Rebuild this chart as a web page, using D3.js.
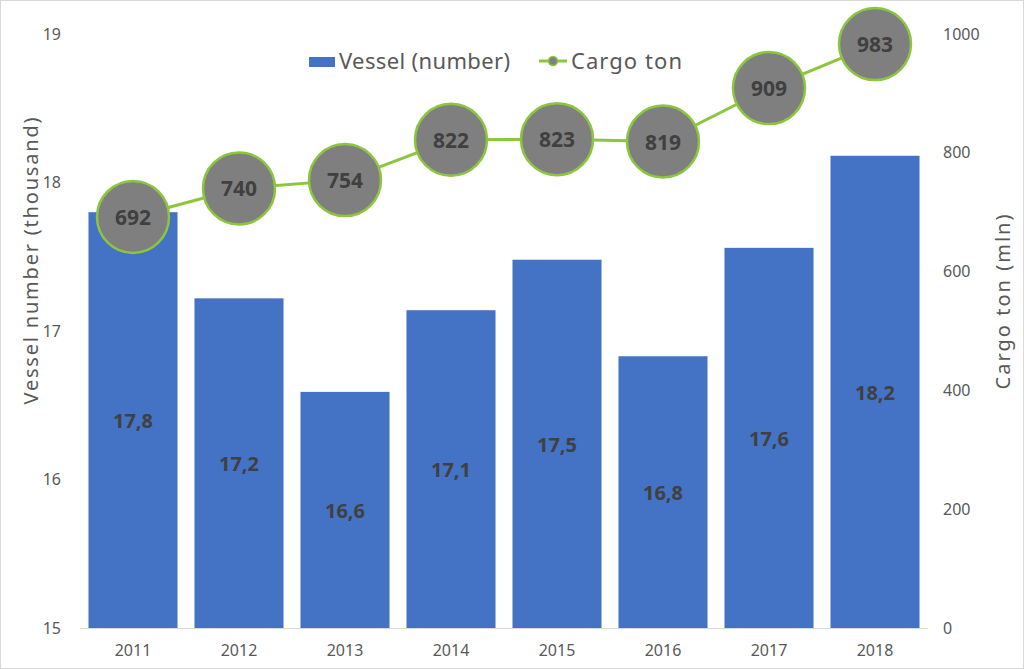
<!DOCTYPE html>
<html><head><meta charset="utf-8">
<script src="https://cdn.jsdelivr.net/npm/d3@7"></script>
<style>
html,body{margin:0;padding:0;background:#fff;}
svg{display:block;font-family:"Noto Sans",sans-serif;}
</style></head>
<body>
<svg id="c" width="1024" height="669"></svg>
<script>
const years = ["2011","2012","2013","2014","2015","2016","2017","2018"];
const vessels = [17.80, 17.22, 16.59, 17.14, 17.48, 16.83, 17.56, 18.18];
const cargo = [692, 740, 754, 822, 823, 819, 909, 983];
const leftTicks = [15, 16, 17, 18, 19];
const rightTicks = [0, 200, 400, 600, 800, 1000];

const svg = d3.select("#c");
const W = 1024, H = 669;
const plotL = 80, plotR = 928, plotT = 34, plotB = 628;
const textCol = "#595959";

svg.append("rect").attr("x",0.5).attr("y",0.5).attr("width",W-1).attr("height",H-1)
  .attr("fill","#fff").attr("stroke","#d9d9d9");

const x = d3.scaleBand().domain(years).range([plotL, plotR]).paddingInner(0.16).paddingOuter(0.08);
const yL = d3.scaleLinear().domain([15, 19]).range([plotB, plotT]);
const yR = d3.scaleLinear().domain([0, 1000]).range([plotB, plotT]);

// bars
svg.append("g").selectAll("rect").data(years).join("rect")
  .attr("x", d => x(d)).attr("width", x.bandwidth())
  .attr("y", (d,i) => yL(vessels[i])).attr("height", (d,i) => plotB - yL(vessels[i]))
  .attr("fill", "#4472c4");

// baseline
svg.append("line").attr("x1", plotL).attr("x2", plotR).attr("y1", plotB+0.5).attr("y2", plotB+0.5)
  .attr("stroke", "#d9d9d9").attr("stroke-width", 1);

// bar labels
svg.append("g").selectAll("text").data(years).join("text")
  .attr("x", d => x(d) + x.bandwidth()/2)
  .attr("y", (d,i) => (yL(vessels[i]) + plotB)/2 + 8)
  .attr("text-anchor","middle").attr("font-size", 20).attr("font-weight","bold")
  .attr("fill","#404040")
  .text((d,i) => d3.format(".1f")(vessels[i]).replace(".", ","));

// left axis
const gL = svg.append("g").attr("transform", `translate(${plotL - 16},0)`)
  .call(d3.axisLeft(yL).tickValues(leftTicks).tickSize(0).tickFormat(d3.format("d")));
gL.select(".domain").remove();
gL.selectAll("text").attr("font-size", 16).attr("fill", textCol).attr("font-family","Noto Sans, sans-serif");

// right axis
const gR = svg.append("g").attr("transform", `translate(${plotR + 12},0)`)
  .call(d3.axisRight(yR).tickValues(rightTicks).tickSize(0).tickFormat(d3.format("d")));
gR.select(".domain").remove();
gR.selectAll("text").attr("font-size", 16).attr("fill", textCol).attr("font-family","Noto Sans, sans-serif");

// x axis
const gX = svg.append("g").attr("transform", `translate(0,${plotB + 14})`)
  .call(d3.axisBottom(x).tickSize(0));
gX.select(".domain").remove();
gX.selectAll("text").attr("font-size", 16).attr("fill", textCol).attr("font-family","Noto Sans, sans-serif");

// axis titles
svg.append("text").attr("transform", `translate(38,261) rotate(-90)`)
  .attr("text-anchor","middle").attr("font-size", 20).attr("fill", textCol)
  .attr("textLength", 287).attr("lengthAdjust","spacing")
  .text("Vessel number (thousand)");
svg.append("text").attr("transform", `translate(1010,302) rotate(-90)`)
  .attr("text-anchor","middle").attr("font-size", 20).attr("fill", textCol)
  .attr("textLength", 175).attr("lengthAdjust","spacing")
  .text("Cargo ton (mln)");

// line
const cx = d => x(d) + x.bandwidth()/2;
const line = d3.line().x((d,i) => cx(years[i])).y(d => yR(d));
svg.append("path").datum(cargo).attr("d", line).attr("fill","none")
  .attr("stroke","#8cc63f").attr("stroke-width", 3);

const pts = svg.append("g").selectAll("g").data(cargo).join("g")
  .attr("transform", (d,i) => `translate(${cx(years[i])},${yR(d)})`);
pts.append("circle").attr("r", 36).attr("fill","#7f7f7f").attr("stroke","#8cc63f").attr("stroke-width", 2.5);
pts.append("text").attr("text-anchor","middle").attr("y", 8).attr("font-size", 21)
  .attr("font-weight","bold").attr("fill","#404040").text(d => d);

// legend
const lg = svg.append("g");
lg.append("rect").attr("x", 309).attr("y", 57).attr("width", 26).attr("height", 10).attr("fill","#4472c4");
lg.append("text").attr("x", 339).attr("y", 69).attr("font-size", 22).attr("fill", textCol)
  .attr("textLength", 171).attr("lengthAdjust","spacing").text("Vessel (number)");
lg.append("line").attr("x1", 539).attr("x2", 567).attr("y1", 61).attr("y2", 61).attr("stroke","#8cc63f").attr("stroke-width",3);
lg.append("circle").attr("cx", 553).attr("cy", 61).attr("r", 4.5).attr("fill","#7f7f7f").attr("stroke","#8cc63f").attr("stroke-width",1.5);
lg.append("text").attr("x", 571).attr("y", 69).attr("font-size", 22).attr("fill", textCol)
  .attr("textLength", 111).attr("lengthAdjust","spacing").text("Cargo ton");
</script>
</body></html>
